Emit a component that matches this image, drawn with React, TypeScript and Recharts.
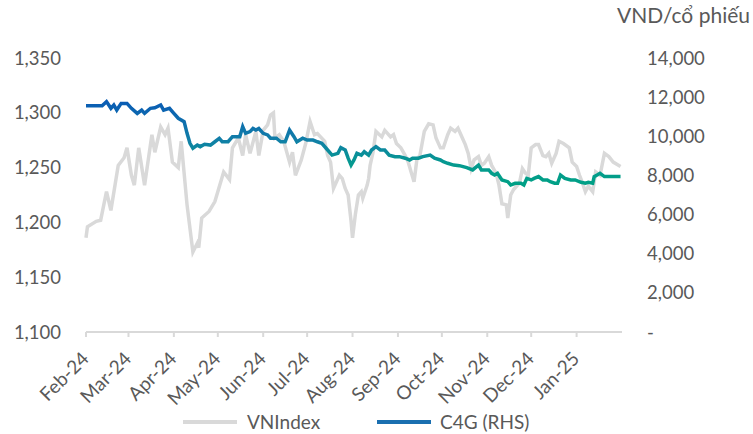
import React from "react";
import {
  Legend,
  Line,
  LineChart,
  XAxis,
  YAxis,
} from "recharts";

// days counted from 1 Feb 2024
const monthTicks = [0, 29, 60, 90, 121, 151, 182, 213, 243, 274, 304, 335];
const monthLabels = [
  "Feb-24", "Mar-24", "Apr-24", "May-24", "Jun-24", "Jul-24",
  "Aug-24", "Sep-24", "Oct-24", "Nov-24", "Dec-24", "Jan-25",
];
const leftTicks = [1100, 1150, 1200, 1250, 1300, 1350];
const rightTicks = [0, 2000, 4000, 6000, 8000, 10000, 12000, 14000];

const vnDays = [
  0, 1, 7, 10, 14, 17, 22, 26, 28, 31, 33, 36, 40, 45, 47, 51, 54, 56, 59, 63,
  65, 69, 73, 76, 77, 79, 84, 88, 90, 94, 98, 100, 104, 107, 109, 112, 116, 118,
  121, 124, 126, 128, 129, 132, 135, 139, 141, 143, 147, 150, 153, 156, 158,
  163, 165, 167, 169, 173, 175, 177, 179, 181, 182, 184, 186, 188, 189, 192,
  193, 194, 196, 198, 202, 204, 208, 210, 212, 215, 218, 220, 222, 224, 226,
  228, 231, 234, 237, 239, 242, 244, 247, 249, 252, 254, 256, 259, 261, 263,
  265, 268, 270, 272, 275, 277, 280, 282, 284, 287, 288, 290, 292, 296, 298,
  300, 302, 304, 307, 309, 312, 314, 316, 318, 321, 323, 326, 330, 332, 335,
  337, 339, 341, 343, 346, 348, 351, 354, 357, 360, 365,
];
const vnValues = [
  1186, 1196, 1201, 1202, 1228, 1211, 1252, 1259, 1268, 1243, 1234, 1268, 1234,
  1280, 1264, 1287, 1280, 1286, 1255, 1250, 1274, 1216, 1173, 1181, 1177, 1204,
  1210, 1219, 1228, 1246, 1239, 1268, 1277, 1261, 1280, 1263, 1283, 1261, 1284,
  1289, 1298, 1300, 1277, 1280, 1274, 1255, 1264, 1243, 1257, 1272, 1292, 1280,
  1281, 1274, 1261, 1255, 1231, 1243, 1240, 1231, 1225, 1201, 1186, 1208, 1225,
  1228, 1222, 1234, 1240, 1252, 1264, 1283, 1278, 1284, 1278, 1280, 1272, 1268,
  1261, 1255, 1246, 1237, 1258, 1261, 1283, 1290, 1289, 1277, 1268, 1268, 1280,
  1286, 1283, 1286, 1280, 1271, 1263, 1249, 1257, 1260, 1252, 1254, 1260, 1252,
  1245, 1234, 1217, 1216, 1204, 1225, 1230, 1236, 1249, 1245, 1243, 1268, 1271,
  1271, 1261, 1260, 1263, 1254, 1263, 1274, 1272, 1268, 1255, 1251, 1243, 1236,
  1228, 1233, 1228, 1246, 1243, 1263, 1260, 1255, 1251,
];

const c4gDays = [
  0, 11, 14, 17, 19, 21, 24, 28, 31, 35, 38, 40, 44, 47, 51, 53, 57, 60, 63, 67,
  69, 71, 73, 76, 78, 81, 85, 88, 91, 93, 97, 100, 105, 107, 109, 112, 114, 116,
  118, 121, 124, 126, 130, 133, 136, 139, 142, 144, 148, 151, 155, 158, 161,
  165, 168, 172, 174, 177, 179, 181, 183, 185, 188, 190, 193, 195, 198, 201,
  204, 207, 211, 214, 218, 221, 223, 227, 230, 235, 238, 242, 244, 247, 251,
  255, 260, 264, 268, 270, 273, 275, 277, 279, 281, 284, 288, 290, 293, 297,
  299, 301, 304, 306, 309, 312, 315, 317, 320, 322, 324, 327, 331, 334, 338,
  341, 343, 346, 347, 349, 351, 354, 357, 365,
];
const c4gValues = [
  11560, 11560, 11770, 11430, 11600, 11340, 11680, 11680, 11430, 11170, 11340,
  11170, 11430, 11460, 11600, 11340, 11430, 11170, 10920, 10750, 10150, 9640,
  9390, 9550, 9470, 9590, 9550, 9720, 9890, 9720, 9720, 9980, 9980, 10490,
  10150, 10240, 10400, 10320, 10400, 10150, 10070, 9900, 9900, 9720, 9720,
  10320, 9980, 9720, 9900, 9810, 9810, 9720, 9640, 9300, 9040, 9130, 9420, 9300,
  8880, 8530, 8790, 9130, 9040, 9210, 9040, 9300, 9470, 9300, 9300, 9040, 8960,
  8960, 8880, 8790, 8880, 8880, 8960, 9040, 8880, 8790, 8700, 8620, 8530, 8500,
  8400, 8280, 8530, 8280, 8280, 8280, 8110, 8020, 8110, 7770, 7680, 7510, 7600,
  7600, 7510, 7850, 7770, 7850, 7940, 7770, 7770, 7680, 7600, 7600, 8020, 7850,
  7770, 7770, 7650, 7600, 7650, 7600, 7940, 8020, 8110, 7940, 7940, 7940,
];

const vnData = vnDays.map((day, i) => ({ day, vn: vnValues[i] }));
const c4gData = c4gDays.map((day, i) => ({ day, c4g: c4gValues[i] }));

const FONT = "Lato, 'Open Sans', sans-serif";
const TEXT = "#595959";
const GREY = "#d9d9d9";

function MonthTick({ x, y, payload }: any) {
  const label = monthLabels[monthTicks.indexOf(payload.value)] ?? "";
  const ax = x + 4;
  const ay = y + 21;
  return (
    <text
      x={ax}
      y={ay}
      transform={`rotate(-45 ${ax} ${ay})`}
      textAnchor="end"
      fill={TEXT}
      fontSize={19}
      fontFamily={FONT}
    >
      {label}
    </text>
  );
}

function ChartLegend() {
  return (
    <div style={{ position: "relative", width: 753, height: 24, fontFamily: FONT }}>
      <div style={{ position: "absolute", left: 183, top: 10, width: 54, height: 4, background: GREY }} />
      <span style={{ position: "absolute", left: 247, top: 0, fontSize: 19, lineHeight: "24px", color: TEXT }}>
        VNIndex
      </span>
      <div style={{ position: "absolute", left: 377, top: 10, width: 54, height: 4, background: "#1a6fb0" }} />
      <span style={{ position: "absolute", left: 440, top: 0, fontSize: 19, lineHeight: "24px", color: TEXT }}>
        C4G (RHS)
      </span>
    </div>
  );
}

export default function App() {
  return (
    <div style={{ position: "absolute", left: 0, top: 0, width: 753, height: 434, background: "#fff" }}>
      <LineChart width={753} height={434} margin={{ top: 58, right: 0, bottom: 0, left: 0 }}>
        <defs>
          <linearGradient id="c4gGrad" x1="0" y1="0" x2="0" y2="1">
            <stop offset="0%" stopColor="#0a5cb4" />
            <stop offset="45%" stopColor="#117ea8" />
            <stop offset="75%" stopColor="#059a8f" />
            <stop offset="100%" stopColor="#00a085" />
          </linearGradient>
        </defs>
        <XAxis
          dataKey="day"
          type="number"
          domain={[0, 366]}
          ticks={monthTicks}
          interval={0}
          height={78}
          axisLine={{ stroke: GREY, strokeWidth: 2 }}
          tickLine={{ stroke: GREY, strokeWidth: 2 }}
          tickSize={5}
          tick={<MonthTick />}
          allowDuplicatedCategory={false}
        />
        <YAxis
          yAxisId="left"
          domain={[1100, 1350]}
          ticks={leftTicks}
          width={86}
          axisLine={false}
          tickLine={false}
          tickMargin={19}
          tick={{ fill: TEXT, fontSize: 18.5, fontFamily: FONT }}
          tickFormatter={(v: number) => v.toLocaleString("en-US")}
        />
        <YAxis
          yAxisId="right"
          orientation="right"
          domain={[0, 14000]}
          ticks={rightTicks}
          width={131}
          axisLine={false}
          tickLine={false}
          tickMargin={19}
          tick={{ fill: TEXT, fontSize: 18.5, fontFamily: FONT, textAnchor: "start" }}
          tickFormatter={(v: number) => (v === 0 ? "-" : v.toLocaleString("en-US"))}
          label={{
            content: ({ viewBox }: any) => (
              <text
                x={viewBox.x - 5}
                y={viewBox.y - 35}
                fill={TEXT}
                fontSize={21}
                fontFamily={FONT}
              >
                VND/cổ phiếu
              </text>
            ),
          }}
        />
        <Line
          yAxisId="left"
          data={vnData}
          dataKey="vn"
          name="VNIndex"
          stroke={GREY}
          strokeWidth={3.5}
          dot={false}
          type="linear"
          isAnimationActive={false}
        />
        <Line
          yAxisId="right"
          data={c4gData}
          dataKey="c4g"
          name="C4G (RHS)"
          stroke="url(#c4gGrad)"
          strokeWidth={3.5}
          dot={false}
          type="linear"
          isAnimationActive={false}
        />
        <Legend verticalAlign="bottom" content={<ChartLegend />} wrapperStyle={{ left: 0, width: 753 }} />
      </LineChart>
    </div>
  );
}
